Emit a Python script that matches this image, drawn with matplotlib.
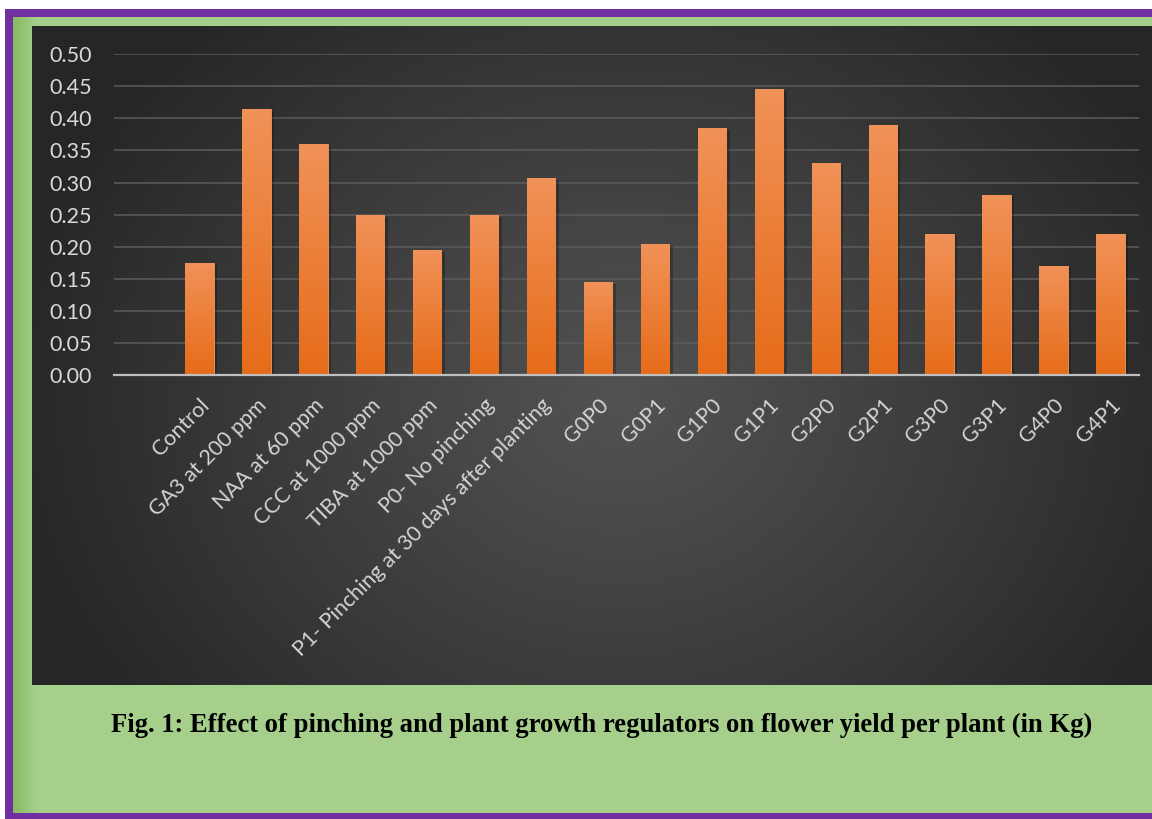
import numpy as np
import matplotlib
matplotlib.use("Agg")
import matplotlib.pyplot as plt
from matplotlib.patches import Rectangle

# data (flower yield per plant, kg)
categories = ["Control", "GA3 at 200 ppm", "NAA at 60 ppm", "CCC at 1000 ppm",
              "TIBA at 1000 ppm", "P0- No pinching",
              "P1- Pinching at 30 days after planting",
              "G0P0", "G0P1", "G1P0", "G1P1", "G2P0", "G2P1",
              "G3P0", "G3P1", "G4P0", "G4P1"]
yields = [0.175, 0.415, 0.360, 0.250, 0.195, 0.250, 0.307,
          0.145, 0.205, 0.385, 0.445, 0.330, 0.390,
          0.220, 0.280, 0.170, 0.220]
yticks = [0.00, 0.05, 0.10, 0.15, 0.20, 0.25, 0.30, 0.35, 0.40, 0.45, 0.50]
caption = "Fig. 1: Effect of pinching and plant growth regulators on flower yield per plant (in Kg)"

W, H = 1152, 819
fig = plt.figure(figsize=(W / 100, H / 100), dpi=100)
fig.patch.set_facecolor("white")

def fx(px):
    return px / W

def fy(py):
    return 1 - py / H

# purple frame + green panel
frame = fig.add_axes([fx(5), 0, 1 - fx(5), fy(9)], zorder=-3)
frame.set_facecolor("#7030a0")
frame.set_xticks([])
frame.set_yticks([])
for s in frame.spines.values():
    s.set_visible(False)

green = fig.add_axes([fx(13), fy(813), 1 - fx(13), fy(17) - fy(813)], zorder=-2)
gx = np.linspace(0, 1, 600)
start = np.array([0x86, 0xbb, 0x62]) / 255
end = np.array([0xa6, 0xcf, 0x8c]) / 255
mix = np.clip(gx / 0.02, 0, 1)
gcols = (start[None, :] * (1 - mix[:, None]) + end[None, :] * mix[:, None])[None, :, :]
green.imshow(gcols, aspect="auto", extent=[0, 1, 0, 1])
green.axis("off")

# dark radial background of the chart
bg = fig.add_axes([fx(32), fy(685), 1 - fx(32), fy(26) - fy(685)], zorder=-1)
xx, yy = np.meshgrid(np.linspace(0, W - 32, 400), np.linspace(0, 685 - 26, 300))
cx, cy = 620 - 32, 400 - 26
d = np.sqrt(((xx - cx) / 620) ** 2 + ((yy - cy) / 520) ** 2)
d = np.clip(d, 0, 1)
light, dark = 0x52 / 255, 0x26 / 255
val = light + (dark - light) * d ** 1.1
bg.imshow(np.dstack([val, val, val]), aspect="auto", extent=[0, 1, 0, 1])
bg.axis("off")

# plot area
ax = fig.add_axes([fx(114), fy(375.5), fx(1139) - fx(114), fy(54) - fy(375.5)])
ax.patch.set_alpha(0)
x = np.arange(len(categories))
bars = ax.bar(x, yields, width=0.5, color="#ee7f36", edgecolor="#f29a60",
              linewidth=0.6, zorder=3)

# orange vertical gradient on each bar, soft shadow on the right
grad = np.linspace(0, 1, 100)[:, None]
top = np.array([0xf1, 0x92, 0x58]) / 255
bot = np.array([0xe6, 0x6c, 0x19]) / 255
gimg = top[None, None, :] * (1 - grad[:, :, None]) + bot[None, None, :] * grad[:, :, None]
for b in bars:
    x0, w, h = b.get_x(), b.get_width(), b.get_height()
    ax.add_patch(Rectangle((x0 + 0.06, 0), w, h - 0.003, facecolor="black",
                           alpha=0.25, edgecolor="none", zorder=2))
    im = ax.imshow(gimg, extent=[x0, x0 + w, 0, h], aspect="auto", zorder=3.5)
    im.set_clip_path(b)

ax.set_xlim(-1.5, len(categories) - 0.5)
ax.set_ylim(0, 0.5)
ax.set_yticks(yticks)
ax.set_yticklabels([f"{t:.2f}" for t in yticks])
ax.yaxis.grid(True, color="#5c5c5c", linewidth=1.1, zorder=1)
ax.set_axisbelow(True)
for s in ["top", "right", "left"]:
    ax.spines[s].set_visible(False)
ax.spines["bottom"].set_color("#bfbfbf")
ax.spines["bottom"].set_linewidth(1.6)
ax.spines["bottom"].set_zorder(4)
ax.tick_params(axis="both", length=0, colors="#d9d9d9")
ax.tick_params(axis="y", labelsize=15.5, pad=16)
ax.set_xticks(x)
ax.set_xticklabels(categories, rotation=45, ha="right", rotation_mode="anchor",
                   fontsize=15.5, color="#d4d4d4")
ax.tick_params(axis="x", pad=14)
for lab in ax.get_xticklabels() + ax.get_yticklabels():
    lab.set_family("Lato")

fig.text(0.522, fy(725), caption, ha="center", va="center", fontsize=19.2,
         fontweight="bold", family="Liberation Serif", color="black")

fig.savefig("out.png", dpi=100)
